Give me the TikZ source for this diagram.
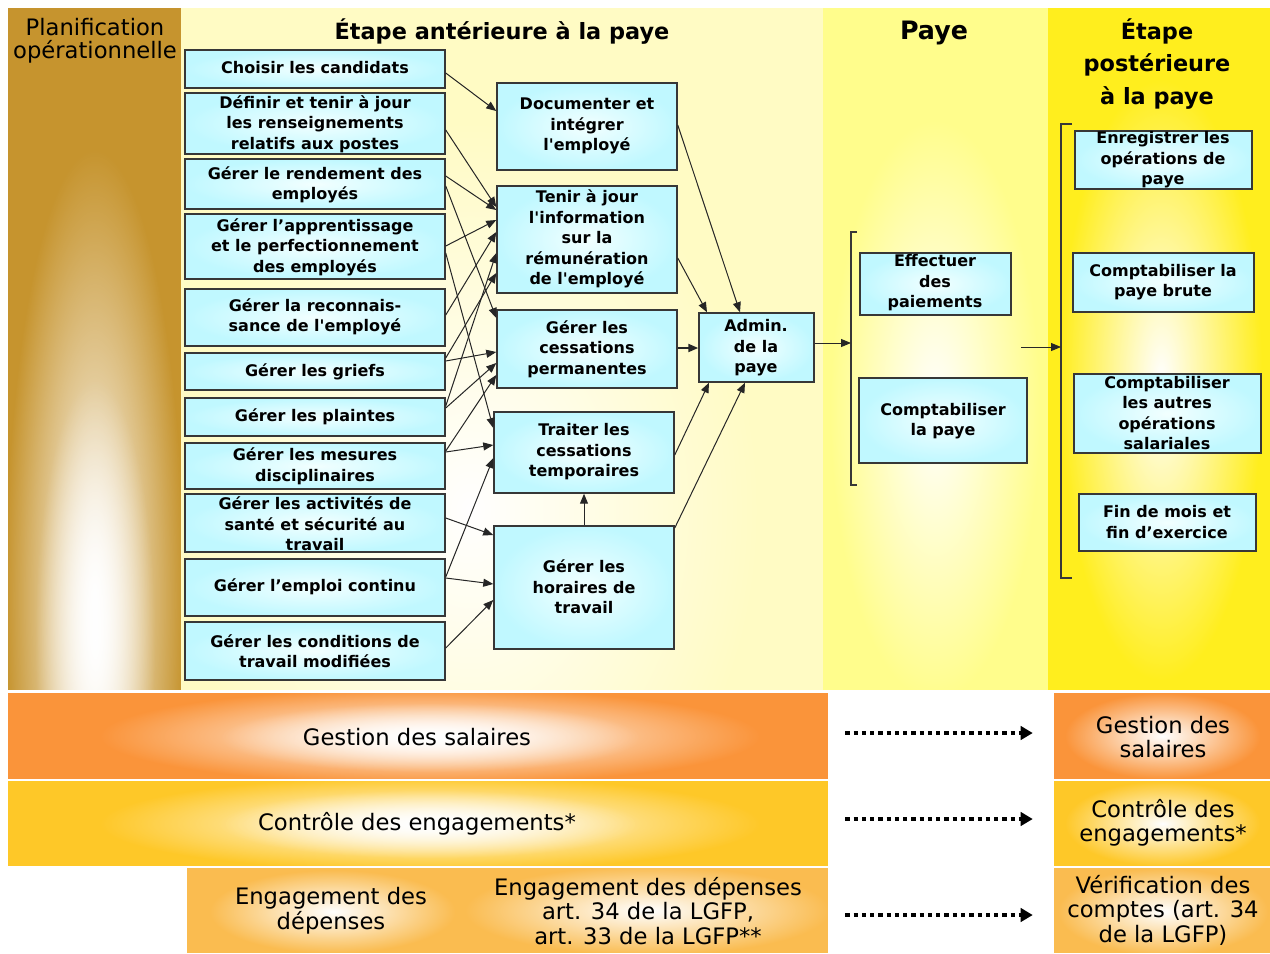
\documentclass[tikz,border=0pt]{standalone}
\usepackage{fontspec}
\newfontfamily\dv{DejaVu Sans}
\usetikzlibrary{arrows.meta,fit,fadings}

\definecolor{planif}{RGB}{198,148,46}
\definecolor{antcol}{RGB}{255,251,196}
\definecolor{payecol}{RGB}{255,253,140}
\definecolor{postcol}{RGB}{255,238,30}
\definecolor{salband}{RGB}{250,148,58}
\definecolor{engband}{RGB}{254,200,40}
\definecolor{depband}{RGB}{250,188,80}
\definecolor{boxout}{RGB}{192,248,255}
\definecolor{boxin}{RGB}{242,255,255}
\definecolor{edge}{RGB}{55,55,55}

% soft white highlight used on the coloured areas
\tikzfading[name=glow, inner color=transparent!0, outer color=transparent!100]

\tikzset{
  box/.style={draw=edge, line width=1.1pt, inner sep=0pt, inner color=boxin, outer color=boxout},
  bt/.style={font=\dv\bfseries\fontsize{12}{15.4}\selectfont, align=center, inner sep=0pt},
  head/.style={font=\dv\bfseries\fontsize{16.8}{24.4}\selectfont, align=center, inner sep=0pt},
  bandtxt/.style={font=\dv\fontsize{17}{18.4}\selectfont, align=center, inner sep=0pt},
  zone/.style={inner sep=0pt},
  arr/.style={draw=black!85, line width=0.75pt, -{Triangle[length=7.5pt,width=6pt]}},
  dots/.style={line width=3.2pt, dash pattern=on 3.2pt off 3pt,
    -{Triangle[length=9pt,width=10pt]}, shorten <=12.75pt, shorten >=15.75pt},
  brk/.style={draw=edge, line width=0.8pt}
}

% activity box: name, x1, y1, x2, y2, text x, text y, text
\newcommand\actbox[8]{%
  \node[box, fit={(#2,#3) (#4,#5)}] (#1) {};
  \node[bt] (#1-t) at (#6,#7) {#8};}

% coloured band: name, x1, y1, x2, y2, colour
\newcommand\band[6]{%
  \fill[#6] (#2,#3) rectangle (#4,#5);
  \node[zone, fit={(#2,#3) (#4,#5)}] (#1) {};}

\begin{document}
\begin{tikzpicture}[x=0.75pt,y=-0.75pt]
\useasboundingbox (0,0) rectangle (1270,953);
\fill[white] (0,0) rectangle (1270,953);

% ---- phase columns ----
\fill[planif] (8,8) rectangle (181,690);
\begin{scope}
  \clip (8,8) rectangle (181,690);
  \fill[white, path fading=glow] (5,150) rectangle (184,1050);
  \fill[white, path fading=glow] (35,380) rectangle (155,900);
\end{scope}
\fill[antcol] (181,8) rectangle (823,690);
\begin{scope}
  \clip (181,8) rectangle (823,690);
  \fill[white, path fading=glow] (181,120) rectangle (760,900);
\end{scope}
\fill[payecol] (823,8) rectangle (1048,690);
\begin{scope}
  \clip (823,8) rectangle (1048,690);
  \fill[white, path fading=glow] (830,120) rectangle (1040,700);
\end{scope}
\fill[postcol] (1048,8) rectangle (1270,690);
\begin{scope}
  \clip (1048,8) rectangle (1270,690);
  \fill[white, path fading=glow] (1060,80) rectangle (1262,680);
\end{scope}

% ---- headings ----
\node[font=\dv\fontsize{17}{17.3}\selectfont, align=center, inner sep=0pt] (hplan) at (95,41)
  {Planification\\opérationnelle};
\node[head] (hant) at (502,32) {Étape antérieure à la paye};
\node[head, font=\dv\bfseries\fontsize{19}{24}\selectfont] (hpaye) at (934,33) {Paye};
\node[head] (hpost) at (1157,64) {Étape\\postérieure\\à la paye};

% ---- activities before the pay ----
\actbox{c1}{185}{50}{445}{88}{315}{68}{Choisir les candidats}
\actbox{c2}{185}{93}{445}{154}{315}{124}{Définir et tenir à jour\\les renseignements\\relatifs aux postes}
\actbox{c3}{185}{159}{445}{209}{315}{185}{Gérer le rendement des\\employés}
\actbox{c4}{185}{214}{445}{279}{315}{247}{Gérer l’apprentissage\\et le perfectionnement\\des employés}
\actbox{c5}{185}{289}{445}{346}{315}{317}{Gérer la reconnais-\\sance de l'employé}
\actbox{c6}{185}{353}{445}{390}{315}{372}{Gérer les griefs}
\actbox{c7}{185}{398}{445}{436}{315}{417}{Gérer les plaintes}
\actbox{c8}{185}{443}{445}{489}{315}{466}{Gérer les mesures\\disciplinaires}
\actbox{c9}{185}{494}{445}{552}{315}{524}{Gérer les activités de\\santé et sécurité au\\travail}
\actbox{c10}{185}{559}{445}{616}{315}{587}{Gérer l’emploi continu}
\actbox{c11}{185}{622}{445}{680}{315}{651}{Gérer les conditions de\\travail modifiées}

\actbox{doc}{497}{83}{677}{170}{587}{126}{Documenter et\\intégrer\\l'employé}
\actbox{tenir}{497}{186}{677}{293}{587}{239}{Tenir à jour\\l'information\\sur la\\rémunération\\de l'employé}
\actbox{cperm}{497}{310}{677}{388}{587}{349}{Gérer les\\cessations\\permanentes}
\actbox{temp}{494}{412}{674}{493}{584}{452}{Traiter les\\cessations\\temporaires}
\actbox{hor}{494}{526}{674}{649}{584}{587}{Gérer les\\horaires de\\travail}
\actbox{admin}{699}{313}{814}{382}{756}{348}{Admin.\\de la\\paye}

% ---- pay ----
\actbox{eff}{860}{253}{1011}{315}{935}{283}{Effectuer\\des\\paiements}
\actbox{cpaye}{859}{378}{1027}{463}{943}{421}{Comptabiliser\\la paye}
\draw[brk] (857,232) -- (851,232) -- (851,485) -- (857,485);
\coordinate (pbrk) at (851,343);

% ---- after the pay ----
\actbox{enr}{1075}{131}{1252}{189}{1163}{160}{Enregistrer les\\opérations de\\paye}
\actbox{brute}{1073}{253}{1254}{312}{1163}{282}{Comptabiliser la\\paye brute}
\actbox{autres}{1074}{374}{1261}{453}{1167}{413}{Comptabiliser\\les autres\\opérations\\salariales}
\actbox{fin}{1079}{494}{1256}{551}{1167}{522}{Fin de mois et\\fin d’exercice}
\draw[brk] (1072,124) -- (1061,124) -- (1061,578) -- (1072,578);
\coordinate (qout) at (1021,347);
\coordinate (qbrk) at (1061,347);

% ---- flows ----
\draw[arr] (c1.east |- 0,73) -- (doc.west |- 0,111);
\draw[arr] (c2.east |- 0,130) -- (tenir.west |- 0,207);
\draw[arr] (c3.east |- 0,176) -- (tenir.west |- 0,210);
\draw[arr] (c3.east |- 0,186) -- (cperm.west |- 0,318);
\draw[arr] (c4.east |- 0,246) -- (tenir.west |- 0,220);
\draw[arr] (c4.east |- 0,253) -- (temp.west |- 0,428);
\draw[arr] (c5.east |- 0,315) -- (tenir.west |- 0,232);
\draw[arr] (c6.east |- 0,358) -- (tenir.west |- 0,273);
\draw[arr] (c6.east |- 0,361) -- (cperm.west |- 0,352);
\draw[arr] (c7.east |- 0,406) -- (tenir.west |- 0,253);
\draw[arr] (c7.east |- 0,408) -- (cperm.west |- 0,363);
\draw[arr] (c8.east |- 0,451) -- (cperm.west |- 0,375);
\draw[arr] (c8.east |- 0,452) -- (temp.west |- 0,445);
\draw[arr] (c9.east |- 0,518) -- (hor.west |- 0,535);
\draw[arr] (c10.east |- 0,577) -- (temp.west |- 0,458);
\draw[arr] (c10.east |- 0,578) -- (hor.west |- 0,584);
\draw[arr] (c11.east |- 0,648) -- (hor.west |- 0,600);
\draw[arr] (hor.north) -- (temp.south);
\draw[arr] (doc.east |- 0,125) -- (admin.north -| 740,0);
\draw[arr] (tenir.east |- 0,258) -- (admin.north -| 707,0);
\draw[arr, line width=1.5pt] (cperm.east |- 0,348) -- (admin.west |- 0,348);
\draw[arr] (temp.east |- 0,455) -- (admin.south -| 709,0);
\draw[arr] (hor.east |- 0,528) -- (admin.south -| 745,0);
\draw[arr] (admin.east |- 0,343) -- (pbrk);
\draw[arr] (qout) -- (qbrk);

% ---- control bands ----
\band{sal}{8}{693}{828}{779}{salband}
\begin{scope}
  \clip (8,693) rectangle (828,779);
  \fill[white, path fading=glow] (100,688) rectangle (760,784);
  \fill[white, path fading=glow] (220,703) rectangle (640,772);
\end{scope}
\band{salr}{1054}{693}{1270}{779}{salband}
\begin{scope}
  \clip (1054,693) rectangle (1270,779);
  \fill[white, path fading=glow] (1065,693) rectangle (1260,779);
\end{scope}
\band{eng}{8}{781}{828}{866}{engband}
\begin{scope}
  \clip (8,781) rectangle (828,866);
  \fill[white, path fading=glow] (100,776) rectangle (760,871);
  \fill[white, path fading=glow] (220,790) rectangle (640,858);
\end{scope}
\band{engr}{1054}{781}{1270}{866}{engband}
\begin{scope}
  \clip (1054,781) rectangle (1270,866);
  \fill[white, path fading=glow] (1065,781) rectangle (1260,866);
\end{scope}
\band{dep}{187}{868}{828}{953}{depband}
\begin{scope}
  \clip (187,868) rectangle (828,953);
  \fill[white, path fading=glow] (210,870) rectangle (455,953);
  \fill[white, path fading=glow] (465,866) rectangle (830,955);
\end{scope}
\band{depr}{1054}{868}{1270}{953}{depband}
\begin{scope}
  \clip (1054,868) rectangle (1270,953);
  \fill[white, path fading=glow] (1058,868) rectangle (1268,955);
\end{scope}

\node[bandtxt] (salt) at (417,737) {Gestion des salaires};
\node[bandtxt] (salrt) at (1163,737) {Gestion des\\salaires};
\node[bandtxt] (engt) at (417,824) {Contrôle des engagements*};
\node[bandtxt] (engrt) at (1163,823) {Contrôle des\\engagements*};
\node[bandtxt] (dept) at (331,911) {Engagement des\\dépenses};
\node[bandtxt] (dept2) at (648,911) {Engagement des dépenses\\art. 34 de la LGFP,\\art. 33 de la LGFP**};
\node[bandtxt] (deprt) at (1163,910) {Vérification des\\comptes (art. 34\\de la LGFP)};

\draw[dots] (sal.east |- 0,733) -- (salr.west |- 0,733);
\draw[dots] (eng.east |- 0,819) -- (engr.west |- 0,819);
\draw[dots] (dep.east |- 0,915) -- (depr.west |- 0,915);
\end{tikzpicture}
\end{document}
